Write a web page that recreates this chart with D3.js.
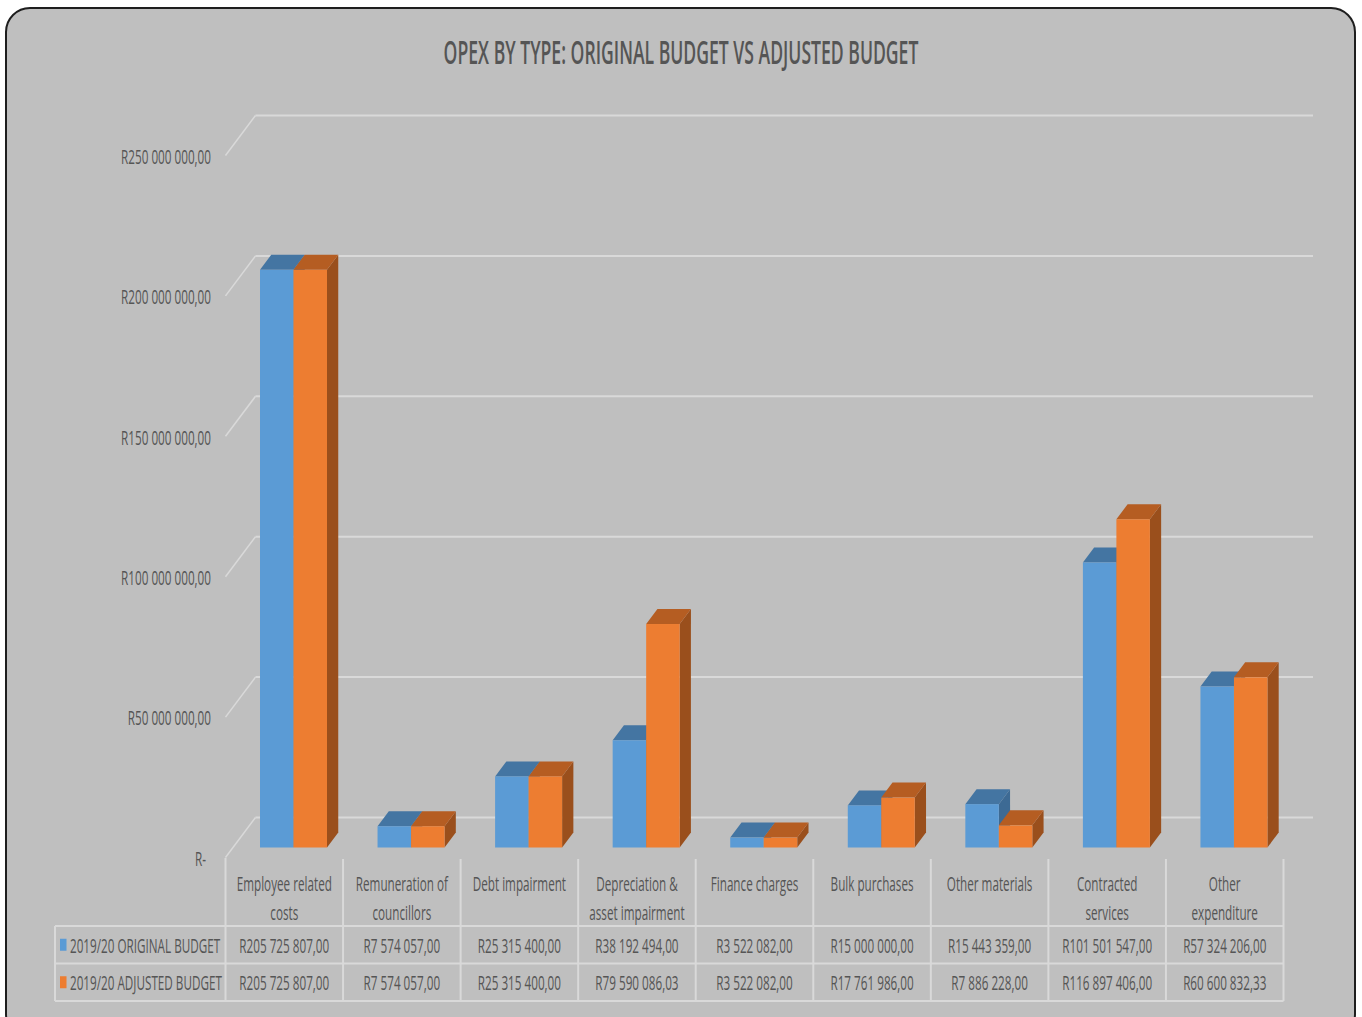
<!DOCTYPE html>
<html><head><meta charset="utf-8">
<script src="https://cdn.jsdelivr.net/npm/d3@7"></script>
<style>
html,body{margin:0;padding:0;background:#fff;}
svg{display:block;}
text{font-family:"Open Sans",sans-serif;fill:#555555;}
</style></head>
<body>
<svg id="chart" width="1362" height="1017"></svg>
<script>
const title = "OPEX BY TYPE: ORIGINAL BUDGET VS ADJUSTED BUDGET";
const categories = ["Employee related\ncosts","Remuneration of\ncouncillors","Debt impairment","Depreciation &\nasset impairment","Finance charges","Bulk purchases","Other materials","Contracted\nservices","Other\nexpenditure"];
const seriesNames = ["2019/20 ORIGINAL BUDGET","2019/20 ADJUSTED BUDGET"];
const originalBudget = [205725807,7574057,25315400,38192494,3522082,15000000,15443359,101501547,57324206];
const adjustedBudget = [205725807,7574057,25315400,79590086.03,3522082,17761986,7886228,116897406,60600832.33];
const yTicks = [0,50000000,100000000,150000000,200000000,250000000];

const colors = [
  {front:"#5b9bd5", top:"#4475a2", side:"#3d6a94"},
  {front:"#ed7d31", top:"#b55d22", side:"#9a4f1c"}
];

const svg = d3.select("#chart");
const series = [originalBudget, adjustedBudget];

// frame
svg.append("rect").attr("x",6).attr("y",8).attr("width",1349).attr("height",1030)
  .attr("rx",24).attr("fill","#bfbfbf").attr("stroke","#1e1e1e").attr("stroke-width",2);

// condensed text helper: positioned with a transform, horizontally squeezed
function label(parent, x, y, str, opts){
  const o = Object.assign({size:20, f:0.585, anchor:"middle", weight:"400"}, opts||{});
  return parent.append("text")
    .attr("transform",`translate(${x},${y}) scale(${o.f},1)`)
    .attr("text-anchor",o.anchor).attr("dominant-baseline","central")
    .style("font-size",o.size+"px").style("font-weight",o.weight).text(str);
}

// title
label(svg, 681, 52, title, {size:32, f:0.55, weight:"600"});

// geometry
const floorLeft = 225.5, floorRight = 1283.5;
const depthX = 30, depthY = 40;
const wallBase = 817.5;
const barT0 = 0.25, barT1 = 0.625;
const x0 = d3.scaleBand().domain(d3.range(categories.length)).range([floorLeft, floorRight]);
const x1 = d3.scaleBand().domain([0,1]).range([27, 94]);
const h = d3.scaleLinear().domain([0,250000000]).range([0,702]);

const grid = "#d9d9d9";

// wall gridlines + left slants
const gg = svg.append("g");
yTicks.forEach(t=>{
  const yw = wallBase - h(t);
  gg.append("line").attr("x1",floorLeft+depthX).attr("x2",1313).attr("y1",yw).attr("y2",yw)
    .attr("stroke",grid).attr("stroke-width",2);
  gg.append("line").attr("x1",floorLeft+depthX).attr("y1",yw).attr("x2",floorLeft).attr("y2",yw+depthY)
    .attr("stroke",grid).attr("stroke-width",1.5);
});

function fmtMoney(v){
  if(v===0) return "R-";
  const fixed = v.toFixed(2);
  let [ip, dp] = fixed.split(".");
  ip = ip.replace(/\B(?=(\d{3})+(?!\d))/g," ");
  return "R"+ip+","+dp;
}

// y tick labels
const yl = svg.append("g");
yTicks.forEach(d=>{
  label(yl, d===0?206:211, wallBase - h(d) + depthY + 1, fmtMoney(d), {anchor:"end", size:19.5, f:0.6});
});

// bars
const barBaseFront = wallBase + depthY*(1-barT0);
const dX = depthX*(barT1-barT0), dY = depthY*(barT1-barT0);
const bars = svg.append("g");
categories.forEach((c,i)=>{
  series.forEach((s,j)=>{
    const v = s[i];
    const xl = x0(i) + depthX*barT0 + x1(j);
    const xr = xl + x1.bandwidth();
    const yb = barBaseFront, yt = barBaseFront - h(v);
    const col = colors[j];
    bars.append("path").attr("fill",col.side)
      .attr("d",`M${xr},${yb}L${xr+dX},${yb-dY}L${xr+dX},${yt-dY}L${xr},${yt}Z`);
    bars.append("path").attr("fill",col.top)
      .attr("d",`M${xl},${yt}L${xl+dX},${yt-dY}L${xr+dX},${yt-dY}L${xr},${yt}Z`);
    bars.append("rect").attr("fill",col.front).attr("x",xl).attr("y",yt).attr("width",xr-xl).attr("height",yb-yt);
  });
});

// data table
const tbl = svg.append("g");
const headTop = wallBase + depthY + 1.5, rowY = [926, 963.5, 1001], tableLeft = 55;
d3.range(categories.length+1).forEach(k=>{
  const x = floorLeft + k*x0.bandwidth();
  tbl.append("line").attr("x1",x).attr("x2",x).attr("y1",k===0?headTop-1:headTop).attr("y2",rowY[2])
    .attr("stroke",grid).attr("stroke-width",2);
});
tbl.append("line").attr("x1",tableLeft).attr("x2",tableLeft).attr("y1",rowY[0]).attr("y2",rowY[2]).attr("stroke",grid).attr("stroke-width",2);
rowY.forEach(y=>{
  tbl.append("line").attr("x1",tableLeft).attr("x2",floorRight).attr("y1",y).attr("y2",y).attr("stroke",grid).attr("stroke-width",2);
});
categories.forEach((c,i)=>{
  const cx = x0(i) + x0.bandwidth()/2;
  c.split("\n").forEach((ln,k)=>{
    label(tbl, cx, 883 + k*29, ln);
  });
});
series.forEach((s,j)=>{
  const cy = (rowY[j]+rowY[j+1])/2;
  tbl.append("rect").attr("x",60).attr("y",cy-6).attr("width",6.5).attr("height",12).attr("fill",colors[j].front);
  label(tbl, 70, cy, seriesNames[j], {anchor:"start"});
  s.forEach((v,i)=>{
    label(tbl, x0(i)+x0.bandwidth()/2, cy, fmtMoney(v));
  });
});
</script>
</body></html>
